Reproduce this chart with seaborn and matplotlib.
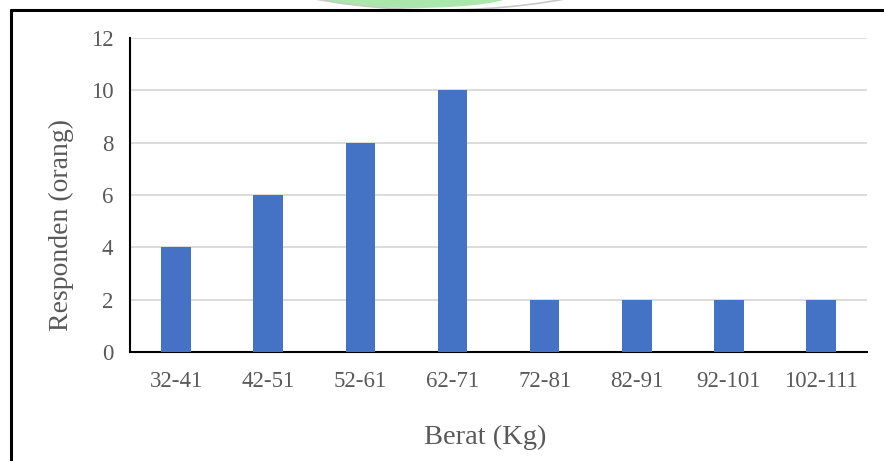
import matplotlib
matplotlib.use("Agg")
import matplotlib.pyplot as plt
import seaborn as sns
import pandas as pd
from matplotlib.lines import Line2D
from matplotlib.patches import Ellipse, Arc

# Weight groups and respondent counts
categories = ["32-41", "42-51", "52-61", "62-71", "72-81", "82-91", "92-101", "102-111"]
counts = [4, 6, 8, 10, 2, 2, 2, 2]
y_ticks = [0, 2, 4, 6, 8, 10, 12]

df = pd.DataFrame({"Berat": categories, "Responden": counts})

sns.set_theme(style="white")
plt.rcParams["font.family"] = ["Liberation Serif", "DejaVu Serif"]

fig = plt.figure(figsize=(8.84, 4.61), dpi=100)
ax = fig.add_axes([0.147, 0.2364, 0.834, 0.6812])

sns.barplot(data=df, x="Berat", y="Responden", color="#4472C4",
            width=0.32, saturation=1, linewidth=0, ax=ax, zorder=3)

ax.set_ylim(0, 12)
ax.set_yticks(y_ticks)
ax.set_yticklabels([str(v) for v in y_ticks])
ax.set_xlim(-0.5, len(categories) - 0.5)
ax.yaxis.grid(True, color="#D9D9D9", linewidth=1.3, zorder=0)
ax.set_axisbelow(True)

for side in ["top", "right"]:
    ax.spines[side].set_visible(False)
ax.spines["left"].set_color("black")
ax.spines["left"].set_linewidth(1.5)
ax.spines["bottom"].set_color("black")
ax.spines["bottom"].set_linewidth(1.5)

ax.tick_params(axis="both", length=0, labelsize=16.5, labelcolor="#595959")
ax.tick_params(axis="y", pad=12)
ax.tick_params(axis="x", pad=14)
ax.set_xlabel("")
ax.set_ylabel("")

fig.text(0.549, 0.052, "Berat (Kg)", ha="center", va="center",
         fontsize=20.5, color="#595959")
fig.text(0.070, 0.512, "Responden (orang)", ha="center", va="center",
         rotation=90, fontsize=20, color="#595959")

# Frame lines along the top and left of the figure
fig.add_artist(Line2D([11 / 884, 11 / 884], [0, 1 - 10 / 461],
                      transform=fig.transFigure, color="black", linewidth=2.2))
fig.add_artist(Line2D([11 / 884, 1], [1 - 10 / 461, 1 - 10 / 461],
                      transform=fig.transFigure, color="black", linewidth=2.2))

# Faint seal peeking over the top edge
fig.add_artist(Ellipse((413 / 884, 1 + 6 / 461), 200 / 884, 28 / 461,
                       transform=fig.transFigure, facecolor="#8EE08E",
                       edgecolor="none", alpha=0.75, zorder=0))
fig.add_artist(Arc((440 / 884, 1 + 120 / 461), 620 / 884, 260 / 461,
                   theta1=200, theta2=340, transform=fig.transFigure,
                   color="#C8C8C8", linewidth=1.2, zorder=0))

fig.savefig("out.png", dpi=100)
